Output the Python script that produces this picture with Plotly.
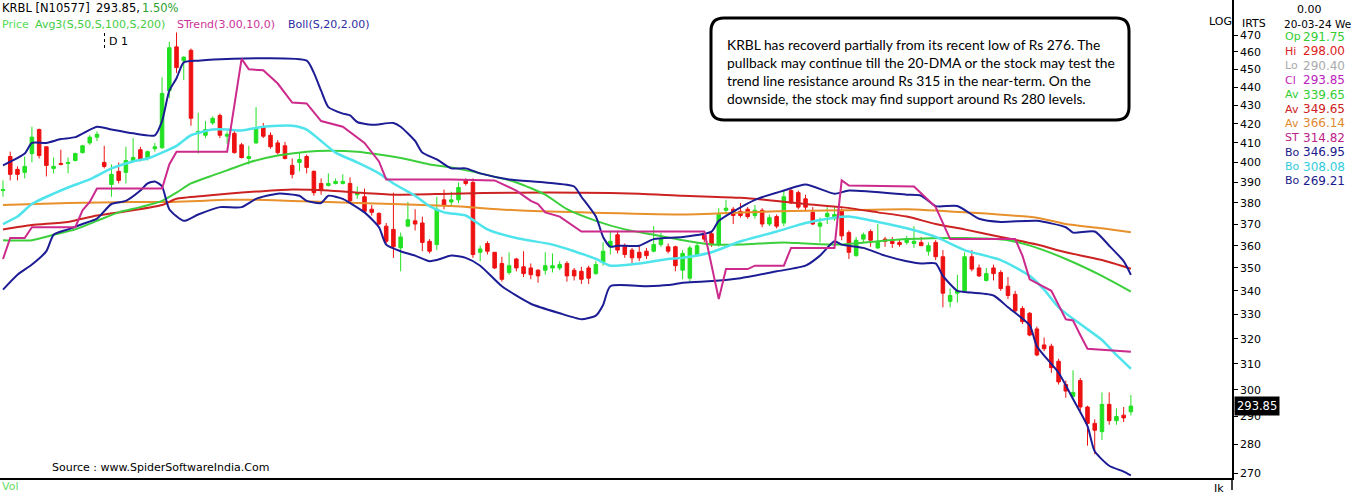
import math
import plotly.graph_objects as go

# KRBL daily bars (last bar is 20-03-24)
opens = [386, 403, 396.5, 395, 404.5, 417, 408, 397, 399.5, 399.5,
         401, 405, 410, 413, 400, 389, 395.5, 395, 400.5, 406.5,
         402.5, 407, 407.5, 438, 463, 455, 461, 415, 414, 420.5,
         424.5, 413.5, 415, 409, 402, 410, 418, 414, 410, 408.5,
         398.5, 400, 403, 395.5, 389.5, 388.5, 389.5, 389.5, 389.5, 384,
         383, 377, 375, 369, 367.5, 359, 369, 371.5, 370.5, 362,
         360.5, 381.5, 380.5, 381.5, 391, 390, 357, 361, 357, 352,
         348, 354, 350.5, 350, 349, 349, 350, 350, 352, 349,
         348.5, 350, 347.5, 352.5, 359.5, 365, 359.5, 358, 357, 357.5,
         357.5, 360.5, 359.5, 359.5, 349, 345.5, 356, 365, 365.5, 360.5,
         376.5, 377, 376, 377, 374, 376.5, 370, 373.5, 370.5, 386,
         385, 382, 375.5, 369, 373.5, 372.5, 376.5, 366, 355.5, 363,
         366.5, 359, 363, 362, 361.5, 361.5, 361, 361.5, 357.5, 361.5,
         355, 335.5, 339, 340, 355, 350, 344.5, 350, 348, 342,
         338.5, 332.5, 330.5, 324, 317.5, 317, 311, 302, 297.5, 303.5,
         293.5, 287.5, 284.5, 294.5, 288.5, 290.5, 291.75]
highs = [391, 405.5, 398, 403, 418.5, 417.5, 408, 402.5, 406.5, 402.5,
         405, 409, 414, 416, 408.5, 399, 400, 408, 412.5, 408,
         406, 410, 445.5, 466, 471.5, 457.5, 462, 426, 421.5, 424,
         425.5, 416, 416.5, 410, 408.5, 429, 420.5, 415.5, 411.5, 410.5,
         402, 405, 404, 396, 392, 394.5, 392, 394, 392.5, 388,
         387, 379, 375.5, 370.5, 385, 366, 380.5, 377, 373.5, 363,
         383, 386.5, 385.5, 390, 392, 392, 360, 362, 357, 355,
         357, 354.5, 357.5, 352, 349.5, 357, 356.5, 353, 353, 350,
         350.5, 351, 353, 361.5, 367, 367, 361, 359, 360, 359,
         369, 366, 361, 360, 358, 360, 361.5, 366, 366.5, 377.5,
         381.5, 378, 380, 378, 379, 377.5, 374.5, 374.5, 386, 387,
         386, 384, 378, 373, 378, 378, 377.5, 367, 364, 366,
         367.5, 370, 364, 364, 363, 364.5, 369, 364, 361.5, 362.5,
         358, 341, 347, 357, 358, 351.5, 350, 351.5, 349, 346,
         340, 333.5, 331, 325, 320.5, 318, 312, 303.5, 307.5, 304.5,
         294, 289, 299, 299, 293, 293.5, 298]
lows = [383, 391, 391, 392, 400, 402, 393, 394.5, 398.5, 394.5,
        400.5, 404.5, 409, 411, 397, 383, 389.5, 389.5, 400, 400.5,
        401, 405.5, 407, 434, 448, 444, 419, 404.5, 412.5, 419.5,
        412.5, 409.5, 404.5, 402, 399, 409.5, 412.5, 407, 404, 401.5,
        392, 395.5, 394.5, 383.5, 384, 388, 389, 389, 380, 382,
        375.5, 374, 369.5, 360.5, 354.5, 348.5, 369, 367, 357.5, 356.5,
        358, 377, 379, 380, 388.5, 354.5, 353, 356, 349.5, 344,
        347, 348.5, 346, 345, 343.5, 347, 348, 349, 344, 344.5,
        343, 343, 347, 351, 356, 356.5, 354.5, 352, 353, 354,
        357, 359.5, 356.5, 348.5, 345, 344, 355, 361.5, 359.5, 359.5,
        374.5, 370, 373, 372.5, 372.5, 368.5, 369, 368, 369, 379.5,
        377, 376.5, 369.5, 361.5, 370, 371.5, 362.5, 354, 355, 361.5,
        359.5, 358.5, 359.5, 359, 359.5, 360.5, 359, 360, 355.5, 353.5,
        333, 333, 335, 339.5, 348.5, 346, 344, 344.5, 340, 336.5,
        331, 326, 321, 313, 315, 306.5, 302, 297, 297, 291.5,
        279.5, 276.5, 281.5, 287, 287, 288, 290.4]
closes = [386.5, 394, 394, 398, 413, 403.5, 398.5, 398, 399, 400,
          404.5, 408.5, 413, 414.5, 398, 394, 391, 401, 402.5, 401.5,
          405.5, 408, 436.5, 462.5, 451, 457, 423, 416, 417, 423,
          414, 414.5, 405, 402.5, 403, 418, 413.5, 408, 405, 402,
          394, 401.5, 397.5, 385, 386, 389.5, 390.5, 390.5, 381, 385,
          376, 375.5, 370, 362, 359.5, 364, 372, 370, 361.5, 357.5,
          377, 379, 381.5, 387.5, 389.5, 356, 358.5, 357.5, 350, 345,
          351, 350, 347.5, 347, 346.5, 351, 351, 351.5, 346.5, 346.5,
          345, 345.5, 351.5, 357.5, 362, 358, 356, 354.5, 354.5, 355.5,
          360.5, 363, 357.5, 351, 356.5, 359, 360, 363, 360.5, 374.5,
          377.5, 374, 374, 373.5, 376.5, 370, 373, 369, 383, 380,
          378, 378, 370, 370.5, 375, 374.5, 364.5, 357, 362.5, 365,
          362.5, 361.5, 362, 361, 360.5, 363, 362, 360, 360, 355,
          339, 338, 340, 355, 349.5, 346.5, 347.5, 347.5, 341, 338,
          331.5, 327, 321.5, 313.5, 316, 308.5, 303, 299.5, 299, 293.5,
          287.5, 285, 294.5, 288.5, 290, 289.5, 293.85]
bars = list(range(len(opens)))

# indicator lines, sampled off the chart at these bar numbers
sma50_bar = [0, 4, 7, 10, 13, 16, 19, 22, 24, 26, 29, 31, 34, 38, 42, 45, 49, 52, 56, 59,
             62, 66, 71, 75, 78, 82, 86, 90, 94, 98, 102, 108, 111, 116, 121, 125, 133, 139, 143, 147,
             152, 156]
sma50 = [362.5, 362.5, 365, 367.5, 371.5, 375.5, 378, 381, 385, 389.5, 393.5, 396, 400, 403.5, 405.5, 406, 405.5, 404, 401.5, 399,
         397.5, 394.5, 390, 384, 377, 371.5, 367.5, 365, 362.5, 360.5, 360.5, 361.5, 361, 360.5, 362, 363, 363.5, 362.5, 359, 354,
         346.5, 339.65]
sma100_bar = [0, 4, 9, 13, 18, 22, 24, 28, 31, 35, 40, 45, 49, 54, 62, 71, 80, 88, 94, 102,
              107, 111, 116, 121, 125, 129, 133, 138, 143, 147, 152, 156]
sma100 = [367.5, 369.5, 371, 374, 376.5, 379, 382, 383.5, 384.5, 385.5, 386.5, 386, 385, 384, 384.5, 385, 385, 384.5, 383.5, 382.5,
          381, 379.5, 378, 375.5, 373.5, 370, 367.5, 364, 360.5, 357, 353.5, 349.65]
sma200_bar = [0, 9, 18, 23, 27, 31, 35, 40, 45, 49, 54, 58, 62, 71, 80, 94, 107, 116, 125, 133,
              143, 147, 152, 156]
sma200 = [379, 380, 380.5, 380.5, 381, 381.5, 381.5, 381, 380.5, 380, 379.5, 379, 378.5, 376.5, 375.5, 374.5, 376, 376.5, 377, 375.5,
          373, 370, 368, 366.14]
st_bar = [0, 1, 3, 4, 10, 11, 12, 13, 22, 23, 24, 31, 33, 34, 36, 38, 40, 42, 44, 47,
          50, 51, 52, 53, 62, 68, 71, 73, 74, 75, 77, 80, 97, 99, 100, 103, 104, 108, 109, 115,
          116, 117, 126, 129, 131, 140, 141, 142, 145, 147, 148, 149, 150, 156]
st = [354, 363.5, 363.5, 368.5, 368.5, 376.5, 380.5, 387, 387, 399, 405.5, 405.5, 456, 450, 449.5, 442, 431.5, 431, 421.5, 418.5,
      410, 405, 400.5, 391.5, 391.5, 391, 386, 381, 379.5, 375.5, 373.5, 366.5, 366.5, 336.5, 349.5, 349.5, 351, 351, 359, 359,
      391, 388.5, 388, 378, 363, 363, 355.5, 345, 340, 328, 327.5, 321.5, 316, 314.82]
bb_up_bar = [0, 3, 4, 6, 8, 10, 13, 15, 18, 21, 22, 23, 24, 25, 27, 31, 42, 43, 44, 45,
             47, 48, 49, 51, 54, 55, 57, 58, 60, 62, 64, 66, 70, 75, 79, 80, 82, 83, 84, 85,
             88, 90, 94, 98, 99, 104, 108, 111, 115, 117, 125, 127, 129, 132, 135, 138, 143, 147, 148, 151,
             153, 155, 156]
bb_up = [398.5, 404.5, 410, 410, 412, 413, 418.5, 417, 415, 414, 421.5, 438, 445, 454, 455, 456, 455, 448, 438, 429,
         425.5, 424.5, 421, 419.5, 420.5, 418.5, 411, 405, 401.5, 397, 397, 394.5, 391.5, 390, 388, 383, 373.5, 364, 359.5, 360,
         360, 363, 364, 366.5, 371.5, 381.5, 386, 389, 384.5, 386, 384, 383.5, 378.5, 378.5, 372.5, 371, 371.5, 368.5, 366, 366.5,
         360, 353, 346.95]
bb_mid_bar = [0, 2, 4, 7, 9, 12, 15, 18, 20, 22, 24, 26, 29, 31, 33, 36, 40, 42, 44, 46,
              49, 52, 54, 57, 59, 61, 62, 64, 67, 71, 76, 79, 82, 84, 88, 92, 94, 98, 102, 107,
              111, 115, 117, 121, 125, 129, 133, 138, 142, 144, 146, 149, 152, 154, 156]
bb_mid = [370, 373.5, 379.5, 384.5, 387.5, 391.5, 397, 400.5, 402, 405, 408.5, 414, 417, 417, 416.5, 418.5, 419, 417, 411, 405,
          400, 394.5, 389.5, 383.5, 378.5, 375.5, 375, 374, 367.5, 363.5, 360.5, 357.5, 354, 351, 352, 354, 354.5, 357, 362, 366.5,
          370.5, 373, 373.5, 371, 368, 364, 358, 353.5, 346.5, 340.5, 333, 326, 319.5, 313.5, 308.08]
bb_lo_bar = [0, 2, 4, 6, 7, 9, 11, 13, 15, 17, 19, 20, 21, 22, 23, 25, 27, 30, 33, 35,
             38, 41, 42, 44, 45, 47, 48, 50, 52, 53, 55, 57, 59, 60, 62, 64, 66, 69, 73, 77,
             80, 81, 82, 83, 84, 89, 92, 94, 97, 102, 107, 111, 113, 115, 116, 119, 122, 125, 127, 129,
             130, 132, 133, 137, 139, 142, 143, 146, 148, 150, 151, 153, 155, 156]
bb_lo = [340.5, 347, 351.5, 357.5, 365, 367.5, 370, 372.5, 379.5, 381, 386, 389.5, 390.5, 388, 377, 371.5, 374.5, 378, 378, 382,
         384.5, 383.5, 381, 380, 383.5, 382, 380, 375.5, 368.5, 360.5, 357.5, 355.5, 353, 353.5, 355.5, 354.5, 351, 342, 334.5, 330.5,
         328, 328.5, 329.5, 334, 342, 342, 342.5, 343.5, 344, 345.5, 348.5, 351, 355.5, 362, 360.5, 359, 355.5, 353, 352, 352,
         346.5, 340, 339.5, 338, 333, 325.5, 317, 306.5, 296.5, 286.5, 277.5, 272.5, 270.5, 269.21]

price_ticks = list(range(270, 471, 10))

UP = '#22e022'
DOWN = '#ee1111'
FONT = 'DejaVu Sans'

# plot area in pixels: 1232 x 478, price pane on a log scale
PW, PH = 1232, 478
lg_per_px = (math.log10(470) - math.log10(270)) / (473 - 35)
y_range = [math.log10(270) - 5 * lg_per_px, math.log10(470) + 35 * lg_per_px]
x_range = [-3 / 7.23, (PW - 3) / 7.23]


def px(x):
    return x / PW


def py(y):
    return 1 - y / PH


fig = go.Figure()
fig.add_trace(go.Candlestick(
    x=bars, open=opens, high=highs, low=lows, close=closes,
    increasing=dict(line=dict(color=UP, width=1), fillcolor=UP),
    decreasing=dict(line=dict(color=DOWN, width=1), fillcolor=DOWN),
    whiskerwidth=0, showlegend=False, hoverinfo='skip'))


def add_line(xs, ys, color, width=2, shape='spline'):
    fig.add_trace(go.Scatter(x=xs, y=ys, mode='lines', showlegend=False, hoverinfo='skip',
                             line=dict(color=color, width=width, shape=shape, smoothing=0.6)))


add_line(sma200_bar, sma200, '#e8902c')
add_line(sma100_bar, sma100, '#cc2222')
add_line(sma50_bar, sma50, '#3ccf3c')
add_line(bb_mid_bar, bb_mid, '#4fe4ec', width=2.5)
add_line(bb_up_bar, bb_up, '#1c1c94')
add_line(bb_lo_bar, bb_lo, '#1c1c94')
add_line(st_bar, st, '#cc2a8c', shape='linear')


def label(x, y, text, color='black', size=11, anchor='left', family=FONT):
    fig.add_annotation(x=px(x), y=py(y), xref='paper', yref='paper', text=text, showarrow=False,
                       xanchor=anchor, yanchor='middle', font=dict(family=family, size=size, color=color))


# header
label(0, 8, 'KRBL [N10577]', size=11.5)
label(94, 8, '%.2f,' % closes[-1], size=11.5)
label(140, 8, '1.50%', color='#2e9e2e', size=11.5)
label(0, 24, 'Price', color='#55dd55')
label(33, 24, 'Avg3(S,50,S,100,S,200)', color='#44cc44')
label(175, 24, 'STrend(3.00,10,0)', color='#cc3399')
label(286, 24, 'Boll(S,20,2.00)', color='#2c2ca0')
label(107, 42, 'D 1')
fig.add_shape(type='line', xref='paper', yref='paper', x0=px(104.5), x1=px(104.5), y0=py(33), y1=py(51),
              line=dict(color='black', width=1, dash='dot'))

# comment box
L, R, T, B, r = 711, 1129, 18, 120, 13
pts = [('M', L + r, T), ('L', R - r, T), ('Q', R, T, R, T + r), ('L', R, B - r), ('Q', R, B, R - r, B),
       ('L', L + r, B), ('Q', L, B, L, B - r), ('L', L, T + r), ('Q', L, T, L + r, T)]
path = ''
for p in pts:
    cmd, coords = p[0], p[1:]
    xy = []
    for i in range(0, len(coords), 2):
        xy.append('%.5f,%.5f' % (px(coords[i]), py(coords[i + 1])))
    path += cmd + ' '.join(xy) + ' '
fig.add_shape(type='path', path=path + 'Z', xref='paper', yref='paper',
              line=dict(color='black', width=3), fillcolor='white')
note = ['KRBL has recoverd partially from its recent low of Rs 276. The',
        'pullback may continue till the 20-DMA or the stock may test the',
        'trend line resistance around Rs 315 in the near-term. On the',
        'downside, the stock may find support around Rs 280 levels.']
for k, line in enumerate(note):
    label(725, 44 + k * 18.3, line, size=13.8, family='Lato')

label(50, 467, 'Source : www.SpiderSoftwareIndia.Com')
label(0, 486, 'Vol', color='#66dd66')
label(1212, 488, 'Ik')

# right side panel
label(1310, 9, '0.00', anchor='center')
label(1207, 22, 'LOG')
label(1240, 23, 'IRTS')
label(1282, 24, '20-03-24 We', size=10.5)
rows = [('Op', opens[-1], '#33cc33'), ('Hi', highs[-1], '#dd2222'), ('Lo', lows[-1], '#aaaaaa'),
        ('Cl', closes[-1], '#bb22bb'), ('Av', sma50[-1], '#33cc33'), ('Av', sma100[-1], '#cc2222'),
        ('Av', sma200[-1], '#e08a30'), ('ST', st[-1], '#bb2288'), ('Bo', bb_up[-1], '#1a1a8c'),
        ('Bo', bb_mid[-1], '#33ccdd'), ('Bo', bb_lo[-1], '#1a1a8c')]
for k, (name, val, col) in enumerate(rows):
    yy = 37 + k * 14.4
    label(1283, yy, name, color=col, size=11)
    label(1301, yy, '%.2f' % val, color=col, size=12)

# last price tag on the axis
fig.add_annotation(x=1, xref='paper', y=math.log10(closes[-1]), yref='y', xanchor='left', xshift=2,
                   text='%.2f' % closes[-1], showarrow=False, bgcolor='black', borderpad=2,
                   font=dict(family=FONT, size=11.5, color='white'))

# axis line running down into the volume pane
fig.add_shape(type='line', xref='paper', yref='paper', x0=1, x1=1, y0=0, y1=py(490),
              line=dict(color='black', width=1.5))

fig.update_layout(
    width=1352, height=500,
    margin=dict(l=0, r=1352 - PW, t=0, b=500 - PH),
    paper_bgcolor='white', plot_bgcolor='white',
    font=dict(family=FONT, size=11, color='black'),
    xaxis=dict(range=x_range, showgrid=False, zeroline=False, showticklabels=False, ticks='',
               showline=True, linecolor='black', linewidth=1.5, rangeslider=dict(visible=False)),
    yaxis=dict(type='log', range=y_range, side='right', showgrid=False, zeroline=False,
               tickmode='array', tickvals=price_ticks, ticktext=[str(v) for v in price_ticks],
               ticks='outside', ticklen=4, tickcolor='black', showline=True, linecolor='black',
               linewidth=1.5, tickfont=dict(family=FONT, size=11, color='black')),
)

# page body has an 8px default margin; drop it so the chart sits at the window corner
fig.write_html('out.html', config=dict(displayModeBar=False),
               post_script="document.body.style.margin='0px';")
